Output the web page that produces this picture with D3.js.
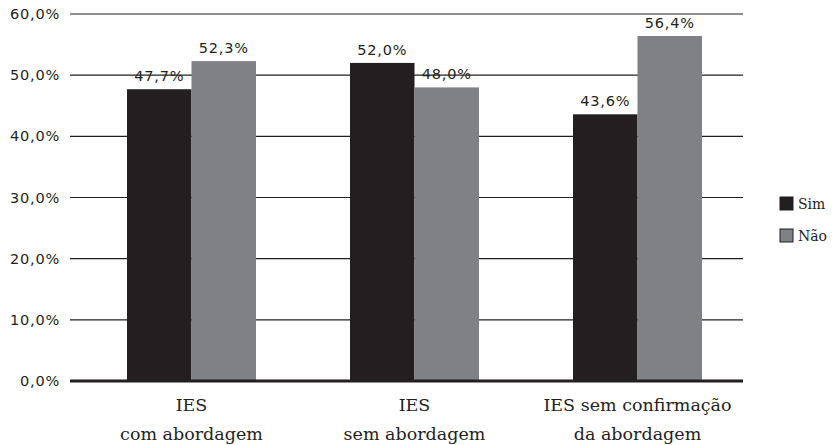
<!DOCTYPE html>
<html><head><meta charset="utf-8">
<script src="https://cdn.jsdelivr.net/npm/d3@7"></script>
<style>body{margin:0;background:#fff}</style>
</head><body>
<svg id="c" width="839" height="445"></svg>
<script>
const categories = [["IES","com abordagem"],["IES","sem abordagem"],["IES sem confirmação","da abordagem"]];
const series = ["Sim","Não"];
const simValues = [47.7, 52.0, 43.6];
const naoValues = [52.3, 48.0, 56.4];
const yTicks = [0,10,20,30,40,50,60];
const colors = ["#231f20","#808184"];

const svg = d3.select("#c");
const fmt = v => d3.format(".1f")(v).replace(".", ",") + "%";
const y = d3.scaleLinear().domain([0,60]).range([381,14]);
const x0 = d3.scaleBand().domain(d3.range(categories.length)).range([80,749]).paddingInner(0).paddingOuter(0);
const x1 = d3.scaleBand().domain(series).range([x0.bandwidth()/2-64.5, x0.bandwidth()/2+64.5]);
const gridL = 70, gridR = 743;

// gridlines
svg.append("g").selectAll("line").data(yTicks.filter(d=>d>0)).join("line")
  .attr("x1",gridL).attr("x2",gridR).attr("y1",d=>y(d)).attr("y2",d=>y(d))
  .attr("stroke","#231f20").attr("stroke-width",1.2);

// tick labels
svg.append("g").selectAll("text").data(yTicks).join("text")
  .attr("x",60).attr("y",d=>y(d)).attr("dy","0.35em").attr("text-anchor","end")
  .attr("font-family","DejaVu Sans").attr("font-size",14.5).attr("letter-spacing",0.8).attr("fill","#231f20")
  .text(d=>fmt(d));

const data = categories.map((c,i)=>({i, vals:[simValues[i], naoValues[i]]}));
const g = svg.append("g").selectAll("g").data(data).join("g")
  .attr("transform",d=>`translate(${x0(d.i)},0)`);
g.selectAll("rect").data(d=>d.vals.map((v,k)=>({k,v}))).join("rect")
  .attr("x",d=>x1(series[d.k])).attr("width",x1.bandwidth())
  .attr("y",d=>y(d.v)).attr("height",d=>y(0)-y(d.v))
  .attr("fill",d=>colors[d.k]);
g.selectAll("text").data(d=>d.vals.map((v,k)=>({k,v}))).join("text")
  .attr("x",d=>x1(series[d.k])+x1.bandwidth()/2).attr("y",d=>y(d.v)-8)
  .attr("text-anchor","middle").attr("font-family","DejaVu Sans").attr("font-size",14.5).attr("letter-spacing",0.8)
  .attr("fill","#231f20").text(d=>fmt(d.v));

// baseline
svg.append("line").attr("x1",gridL).attr("x2",gridR).attr("y1",y(0)).attr("y2",y(0))
  .attr("stroke","#231f20").attr("stroke-width",3);

// category labels
const cl = svg.append("g").selectAll("text").data(categories).join("text")
  .attr("text-anchor","middle").attr("font-family","DejaVu Serif").attr("font-size",17.5)
  .attr("fill","#231f20");
cl.each(function(d,i){
  const t = d3.select(this);
  d.forEach((line,j)=>t.append("tspan").attr("x",x0(i)+x0.bandwidth()/2).attr("y",411+j*29).text(line));
});

// legend
const lg = svg.append("g").selectAll("g").data(series).join("g")
  .attr("transform",(d,i)=>`translate(780,${197+i*32})`);
lg.append("rect").attr("width",13).attr("height",13).attr("fill",(d,i)=>colors[i])
  .attr("stroke","#231f20").attr("stroke-width",1);
lg.append("text").attr("x",18).attr("y",7).attr("dy","0.35em")
  .attr("font-family","DejaVu Serif").attr("font-size",14).attr("fill","#231f20").text(d=>d);
</script>
</body></html>
